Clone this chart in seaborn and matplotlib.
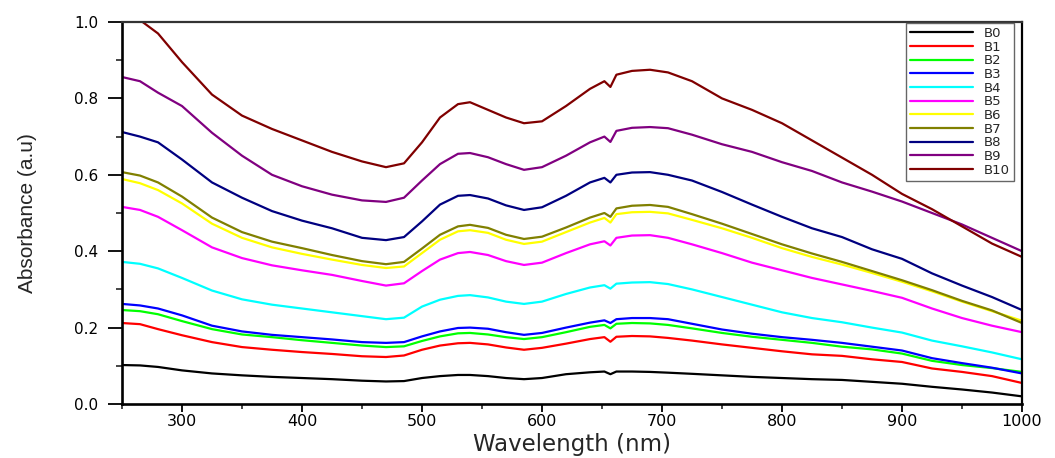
import matplotlib
matplotlib.use("Agg")
import matplotlib.pyplot as plt
import pandas as pd
import seaborn as sns
from matplotlib.ticker import MultipleLocator

# Wavelength grid (nm) shared by every absorbance series
wavelength = [250, 265, 280, 300, 325, 350, 375, 400, 425, 450, 470, 485, 500, 515,
              530, 540, 555, 570, 585, 600, 620, 640, 652, 657, 662, 675, 690, 705,
              725, 750, 775, 800, 825, 850, 875, 900, 925, 950, 975, 1000]

b0 = [0.102, 0.101, 0.097, 0.088, 0.080, 0.075, 0.071, 0.068, 0.065, 0.061, 0.059, 0.060, 0.068, 0.073,
      0.076, 0.076, 0.073, 0.068, 0.065, 0.068, 0.078, 0.083, 0.085, 0.078, 0.085, 0.085, 0.084, 0.082,
      0.079, 0.075, 0.071, 0.068, 0.065, 0.063, 0.058, 0.053, 0.045, 0.038, 0.030, 0.020]
b1 = [0.212, 0.209, 0.196, 0.180, 0.162, 0.149, 0.142, 0.136, 0.131, 0.125, 0.123, 0.127, 0.142, 0.153,
      0.159, 0.160, 0.156, 0.148, 0.142, 0.147, 0.158, 0.170, 0.175, 0.163, 0.176, 0.178, 0.177, 0.173,
      0.166, 0.156, 0.147, 0.138, 0.130, 0.126, 0.117, 0.110, 0.093, 0.084, 0.073, 0.055]
b2 = [0.246, 0.243, 0.235, 0.217, 0.196, 0.182, 0.175, 0.167, 0.160, 0.153, 0.149, 0.151, 0.165, 0.177,
      0.185, 0.186, 0.182, 0.175, 0.170, 0.175, 0.188, 0.202, 0.207, 0.198, 0.210, 0.212, 0.211, 0.207,
      0.198, 0.186, 0.176, 0.168, 0.160, 0.150, 0.143, 0.132, 0.113, 0.102, 0.094, 0.084]
b3 = [0.262, 0.258, 0.250, 0.232, 0.205, 0.190, 0.181, 0.175, 0.169, 0.162, 0.160, 0.162, 0.177, 0.190,
      0.199, 0.200, 0.197, 0.188, 0.181, 0.186, 0.200, 0.213, 0.219, 0.212, 0.222, 0.225, 0.225, 0.222,
      0.210, 0.195, 0.184, 0.175, 0.168, 0.160, 0.150, 0.140, 0.120, 0.107, 0.095, 0.080]
b4 = [0.372, 0.367, 0.355, 0.330, 0.297, 0.274, 0.260, 0.250, 0.240, 0.230, 0.222, 0.226, 0.255, 0.273,
      0.283, 0.285, 0.279, 0.268, 0.262, 0.268, 0.288, 0.305, 0.311, 0.302, 0.315, 0.318, 0.319, 0.314,
      0.300, 0.280, 0.260, 0.240, 0.225, 0.214, 0.200, 0.187, 0.166, 0.151, 0.135, 0.117]
b5 = [0.516, 0.508, 0.490, 0.455, 0.410, 0.382, 0.363, 0.350, 0.338, 0.322, 0.310, 0.316, 0.348, 0.378,
      0.395, 0.398, 0.390, 0.374, 0.364, 0.370, 0.395, 0.418, 0.426, 0.415, 0.435, 0.441, 0.442, 0.435,
      0.418, 0.395, 0.370, 0.350, 0.330, 0.313, 0.296, 0.278, 0.250, 0.225, 0.205, 0.188]
b6 = [0.589, 0.578, 0.560, 0.525, 0.472, 0.435, 0.410, 0.393, 0.378, 0.364, 0.356, 0.360, 0.395, 0.430,
      0.452, 0.455, 0.448, 0.430, 0.419, 0.425, 0.450, 0.475, 0.487, 0.475, 0.497, 0.502, 0.503, 0.499,
      0.482, 0.460, 0.435, 0.408, 0.385, 0.365, 0.343, 0.320, 0.295, 0.268, 0.243, 0.218]
b7 = [0.607, 0.598, 0.580, 0.543, 0.488, 0.450, 0.425, 0.408, 0.390, 0.374, 0.366, 0.372, 0.407, 0.443,
      0.465, 0.469, 0.461, 0.443, 0.432, 0.438, 0.462, 0.488, 0.500, 0.490, 0.512, 0.519, 0.521, 0.516,
      0.497, 0.472, 0.445, 0.418, 0.394, 0.372, 0.348, 0.324, 0.298, 0.270, 0.245, 0.212]
b8 = [0.712, 0.700, 0.685, 0.640, 0.580, 0.540, 0.505, 0.480, 0.460, 0.435, 0.429, 0.437, 0.478, 0.522,
      0.545, 0.547, 0.538, 0.520, 0.508, 0.515, 0.545, 0.580, 0.592, 0.580, 0.600, 0.606, 0.607, 0.600,
      0.585, 0.555, 0.522, 0.490, 0.460, 0.437, 0.405, 0.380, 0.342, 0.310, 0.280, 0.246]
b9 = [0.856, 0.845, 0.815, 0.780, 0.710, 0.650, 0.600, 0.570, 0.548, 0.533, 0.529, 0.540, 0.585, 0.628,
      0.655, 0.657, 0.646, 0.628, 0.613, 0.620, 0.650, 0.685, 0.700, 0.686, 0.715, 0.723, 0.725, 0.722,
      0.705, 0.680, 0.660, 0.633, 0.610, 0.580, 0.556, 0.530, 0.500, 0.470, 0.435, 0.400]
b10 = [1.050, 1.005, 0.970, 0.895, 0.810, 0.755, 0.720, 0.690, 0.660, 0.635, 0.620, 0.630, 0.685, 0.750,
       0.785, 0.790, 0.770, 0.750, 0.735, 0.740, 0.780, 0.825, 0.845, 0.830, 0.862, 0.872, 0.875, 0.868,
       0.845, 0.800, 0.770, 0.735, 0.690, 0.645, 0.600, 0.550, 0.510, 0.465, 0.420, 0.385]

sample_names = ["B0", "B1", "B2", "B3", "B4", "B5", "B6", "B7", "B8", "B9", "B10"]
sample_values = [b0, b1, b2, b3, b4, b5, b6, b7, b8, b9, b10]
sample_colors = ["#000000", "#ff0000", "#00ff00", "#0000ff", "#00ffff", "#ff00ff",
                 "#ffff00", "#808000", "#000080", "#800080", "#800000"]

df = pd.concat(
    [pd.DataFrame({"Wavelength": wavelength, "Absorbance": vals, "Sample": name})
     for name, vals in zip(sample_names, sample_values)],
    ignore_index=True,
)

sns.set_theme(style="ticks")
plt.rcParams["font.family"] = ["DejaVu Sans"]

W, H = 1055, 458
fig = plt.figure(figsize=(W / 100, H / 100), dpi=100)
ax = fig.add_axes([122 / W, 1 - 404 / H, 900 / W, 382 / H])

sns.lineplot(data=df, x="Wavelength", y="Absorbance", hue="Sample",
             hue_order=sample_names, palette=sample_colors, linewidth=1.6,
             estimator=None, sort=False, ax=ax)

ax.set_xlim(250, 1000)
ax.set_ylim(0.0, 1.0)
ax.xaxis.set_major_locator(MultipleLocator(100))
ax.xaxis.set_minor_locator(MultipleLocator(50))
ax.yaxis.set_major_locator(MultipleLocator(0.2))
ax.yaxis.set_minor_locator(MultipleLocator(0.1))

for side in ["left", "bottom"]:
    ax.spines[side].set_linewidth(1.9)
    ax.spines[side].set_color("black")
for side in ["top", "right"]:
    ax.spines[side].set_visible(True)
    ax.spines[side].set_linewidth(1.6)
ax.spines["top"].set_color("#333333")
ax.spines["right"].set_color("black")

ax.tick_params(axis="x", which="major", direction="out", length=5.5, width=1.3,
               pad=1.5, labelsize=11.5, colors="black")
ax.tick_params(axis="x", which="minor", direction="out", length=3.5, width=1.2)
ax.tick_params(axis="y", which="major", direction="out", length=10, width=1.3,
               pad=7, labelsize=11, colors="black")
ax.tick_params(axis="y", which="minor", direction="out", length=4.5, width=1.2)
ax.tick_params(top=False, right=False, which="both")

ax.set_xlabel("Wavelength (nm)", fontsize=16.5)
ax.xaxis.set_label_coords(0.5, -0.076)
ax.set_ylabel("Absorbance (a.u)", fontsize=15,
              fontfamily=["Liberation Sans Narrow", "Liberation Sans", "DejaVu Sans"])
ax.yaxis.set_label_coords(-0.094, 0.5)

handles, labels = ax.get_legend_handles_labels()
for h in handles:
    h.set_linewidth(1.6)
leg = ax.legend(handles, labels, loc="upper right",
                bbox_to_anchor=((1014 - 122) / 900, (404 - 23) / 382),
                borderaxespad=0, fontsize=9.5, labelspacing=0.05,
                handlelength=4.8, handletextpad=0.8, borderpad=0.3,
                fancybox=False, framealpha=1, edgecolor="#666666")
leg.get_frame().set_linewidth(1.0)

fig.savefig("out.png", dpi=100)
